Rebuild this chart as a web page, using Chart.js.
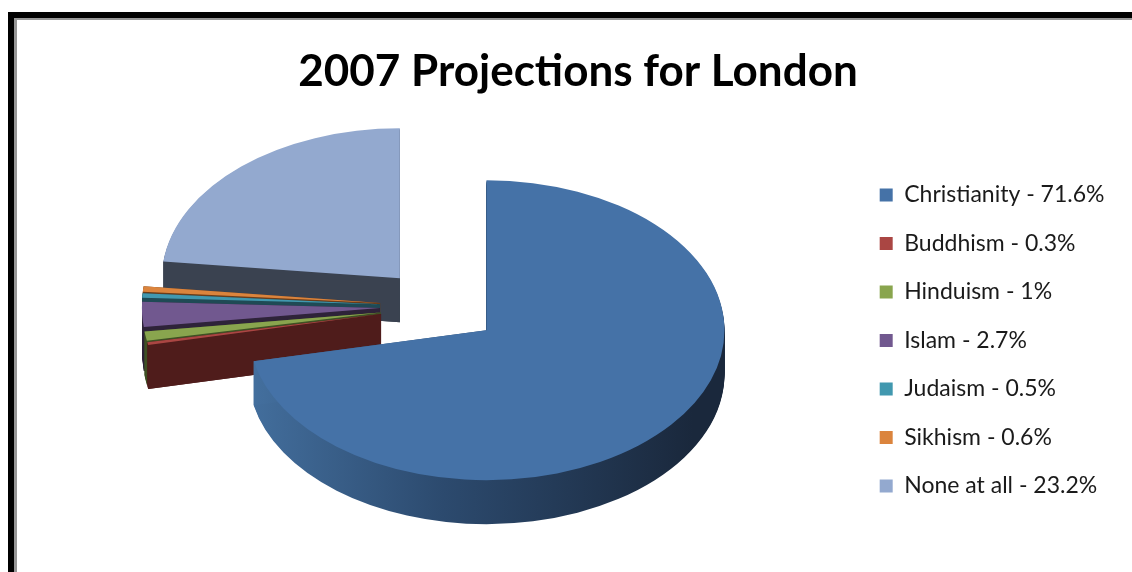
<!DOCTYPE html>
<html>
<head>
<meta charset="utf-8">
<script src="https://cdn.jsdelivr.net/npm/chart.js@4.4.0/dist/chart.umd.min.js"></script>
<style>
  html, body { margin: 0; padding: 0; background: #fff; }
  #c { display: block; }
</style>
</head>
<body>
<canvas id="c" width="1132" height="572"></canvas>
<script>
'use strict';

/* ── Data ─────────────────────────────────────────────────────────────────── */
const faiths = ['Christianity', 'Buddhism', 'Hinduism', 'Islam', 'Judaism', 'Sikhism', 'None at all'];
const shares = [71.6, 0.3, 1, 2.7, 0.5, 0.6, 23.2];
const legendLabels = faiths.map((f, i) => `${f} - ${shares[i]}%`);

const topColours  = ['#4572a7', '#aa4643', '#89a54e', '#71588f', '#4198af', '#db843d', '#93a9cf'];
const sideColours = [null, '#4f1c1b', '#3f5024', '#2e2339', '#1f4a55', '#6b3d1a', '#3a4250'];

/* ── Frame: thick black rule top + left, thin grey inner rule ─────────────── */
const frame = {
  id: 'frame',
  beforeDraw(chart) {
    const { ctx, width, height } = chart;
    ctx.save();
    ctx.fillStyle = '#fff';
    ctx.fillRect(0, 0, width, height);
    ctx.fillStyle = '#000';
    ctx.fillRect(8, 12, width - 8, 6);
    ctx.fillRect(8, 12, 6, height - 12);
    ctx.fillStyle = '#969696';
    ctx.fillRect(14, 18, width - 14, 2);
    ctx.fillRect(14, 18, 3, height - 18);
    ctx.restore();
  },
};

/* ── Tilted, exploded, extruded pie ───────────────────────────────────────────
   Squashes the pie vertically, pulls every slice out along its bisector and
   builds the side walls underneath (stacked copies + solid cut faces).       */
function shift(arc, dist) {
  const mid = (arc.startAngle + arc.endAngle) / 2;
  return [Math.cos(mid) * dist, Math.sin(mid) * dist];
}

const tilt3d = {
  id: 'tilt3d',
  beforeDatasetsDraw(chart, args, o) {
    const { ctx, chartArea: a } = chart;
    const cx = (a.left + a.right) / 2, cy = (a.top + a.bottom) / 2;
    const arcs = chart.getDatasetMeta(0).data;

    const place = dy => {
      ctx.translate(cx + o.shiftX, cy + o.lift + dy);
      ctx.scale(1, o.ratio);
      ctx.translate(-cx, -cy);
    };
    const proj = (px, py, d) => [px + o.shiftX, cy + o.lift + d + (py - cy) * o.ratio];

    const face = (ax, ay, ang, r, fill) => {
      const px = ax + Math.cos(ang) * r, py = ay + Math.sin(ang) * r;
      const pts = [proj(ax, ay, 0), proj(px, py, 0), proj(px, py, o.depth), proj(ax, ay, o.depth)];
      ctx.fillStyle = fill;
      ctx.beginPath();
      pts.forEach(([X, Y], k) => (k ? ctx.lineTo(X, Y) : ctx.moveTo(X, Y)));
      ctx.closePath();
      ctx.fill();
    };

    // side walls, back slices first
    for (let i = arcs.length - 1; i >= 0; i--) {
      const arc = arcs[i];
      const { x, y, startAngle, endAngle, outerRadius } = arc;
      const [dx, dy] = shift(arc, o.explode);
      const ax = x + dx, ay = y + dy;
      let fill = sideColours[i];
      if (!fill) {
        fill = ctx.createLinearGradient(ax + o.shiftX - outerRadius, 0, ax + o.shiftX + outerRadius * 0.9, 0);
        fill.addColorStop(0, '#44709f');
        fill.addColorStop(0.45, '#2c4a6e');
        fill.addColorStop(1, '#1a283c');
      }
      for (let d = o.depth; d >= 1; d--) {
        ctx.save();
        place(d);
        ctx.fillStyle = fill;
        ctx.beginPath();
        ctx.moveTo(ax, ay);
        ctx.arc(ax, ay, outerRadius, startAngle, endAngle);
        ctx.closePath();
        ctx.fill();
        ctx.restore();
      }
      face(ax, ay, endAngle, outerRadius, fill);
      face(ax, ay, startAngle, outerRadius, fill);
    }

    // top faces are drawn by Chart.js, moved out along their bisectors
    arcs.forEach(arc => {
      if (arc._exploded) return;
      const draw = arc.draw;
      arc.draw = function (c, area) {
        const [dx, dy] = shift(this, o.explode);
        c.save();
        c.translate(dx, dy);
        draw.call(this, c, area);
        c.restore();
      };
      arc._exploded = true;
    });

    ctx.save();
    place(0);
  },
  afterDatasetsDraw(chart) {
    chart.ctx.restore();
  },
};

/* ── Chart ────────────────────────────────────────────────────────────────── */
new Chart(document.getElementById('c').getContext('2d'), {
  type: 'pie',
  data: {
    labels: legendLabels,
    datasets: [{
      data: shares,
      backgroundColor: topColours,
      borderWidth: 0,
      clip: false,
    }],
  },
  options: {
    responsive: false,
    animation: false,
    events: [],
    radius: 238,
    layout: { padding: { left: 41.5, right: 17.5, top: 0, bottom: 41 } },
    plugins: {
      title: {
        display: true,
        text: '2007 Projections for London',
        color: '#000',
        font: { family: 'Lato', size: 44, weight: 'bold', lineHeight: 1.2 },
        padding: { top: 45, bottom: 52 },
      },
      legend: {
        position: 'right',
        fullSize: false,
        labels: {
          color: '#1a1a1a',
          font: { family: 'Lato', size: 23 },
          boxWidth: 13,
          boxHeight: 13,
          padding: 25.5,
        },
      },
      tooltip: { enabled: false },
      tilt3d: { ratio: 0.63, lift: -34, shiftX: -8, depth: 44, explode: 60 },
    },
  },
  plugins: [frame, tilt3d],
});
</script>
</body>
</html>
